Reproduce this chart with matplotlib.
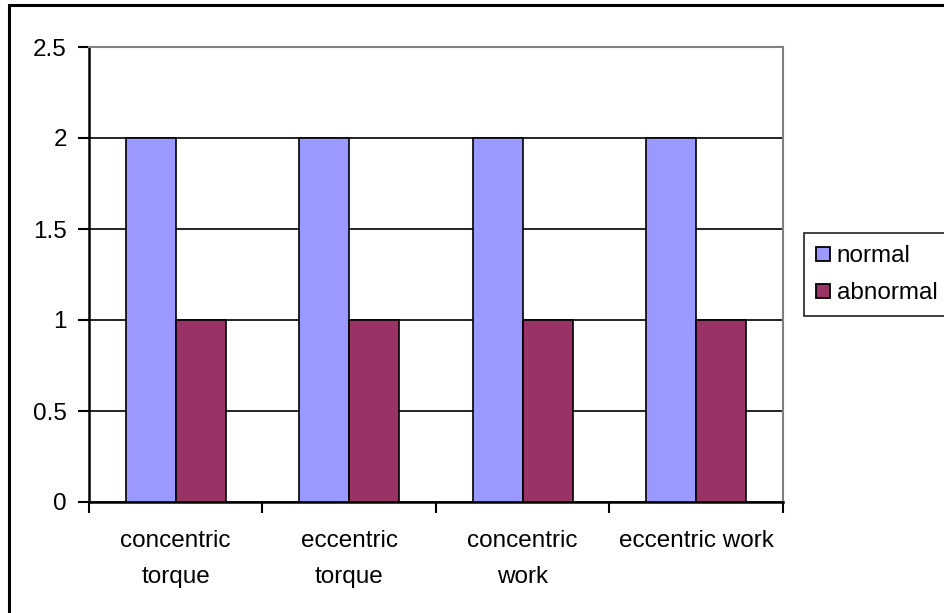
import matplotlib
matplotlib.use("Agg")
import matplotlib.pyplot as plt
import numpy as np
from matplotlib.patches import Rectangle
from matplotlib.lines import Line2D

categories = ["concentric\ntorque", "eccentric\ntorque", "concentric\nwork", "eccentric work"]
normal = [2, 2, 2, 2]
abnormal = [1, 1, 1, 1]
series_names = ["normal", "abnormal"]
yticks = [0, 0.5, 1, 1.5, 2, 2.5]
ytick_labels = ["0", "0.5", "1", "1.5", "2", "2.5"]

plt.rcParams["font.family"] = ["Liberation Sans", "DejaVu Sans"]
FS = 17.5

fig = plt.figure(figsize=(9.45, 6.13), dpi=100)
fig.patch.set_facecolor("white")

# outer chart frame
fig.patches.append(Rectangle((9.5 / 945, -0.1), 1.2, 1 - 4.5 / 613 + 0.1,
                             transform=fig.transFigure, fill=False,
                             edgecolor="black", linewidth=2.2))

ax = fig.add_axes([89 / 945, 1 - 502 / 613, (783 - 89) / 945, (502 - 47) / 613])

x = np.arange(len(categories))
w = 50 / 173.5
ax.bar(x - w / 2, normal, width=w, color="#9999FF", edgecolor="black", linewidth=1.2, zorder=3)
ax.bar(x + w / 2, abnormal, width=w, color="#993366", edgecolor="black", linewidth=1.2, zorder=3)

ax.set_xlim(-0.5, len(categories) - 0.5)
ax.set_ylim(0, 2.5)
ax.set_yticks(yticks)
ax.set_yticklabels(ytick_labels, fontsize=FS)
ax.yaxis.grid(True, color="black", linewidth=1.2, zorder=1)
ax.set_axisbelow(True)

ax.set_xticks(np.arange(len(categories) + 1) - 0.5)
ax.set_xticklabels([])
ax.set_xticks(x, minor=True)
ax.set_xticklabels(categories, minor=True, fontsize=FS, linespacing=1.85)
ax.tick_params(axis="x", which="minor", length=0, pad=20)
ax.tick_params(axis="x", which="major", length=8, width=1.5, direction="out", color="black")
ax.tick_params(axis="y", length=8, width=1.5, direction="out", pad=8, color="black")

for side in ("top", "right"):
    ax.spines[side].set_color("#808080")
    ax.spines[side].set_linewidth(1.5)
for side in ("left", "bottom"):
    ax.spines[side].set_color("black")
    ax.spines[side].set_linewidth(1.8)

handles = [
    Line2D([], [], marker="s", linestyle="none", markersize=9.5,
           markerfacecolor="#9999FF", markeredgecolor="black", markeredgewidth=1.3),
    Line2D([], [], marker="s", linestyle="none", markersize=9.5,
           markerfacecolor="#993366", markeredgecolor="black", markeredgewidth=1.3),
]
leg = fig.legend(handles, series_names, loc="upper left",
                 bbox_to_anchor=(804 / 945, 1 - 233 / 613), fontsize=FS,
                 frameon=True, fancybox=False, edgecolor="black",
                 handlelength=0.55, handletextpad=0.3, borderpad=0.5,
                 labelspacing=0.62, borderaxespad=0)
leg.get_frame().set_linewidth(1.3)

fig.savefig("out.png", dpi=100, facecolor="white")
